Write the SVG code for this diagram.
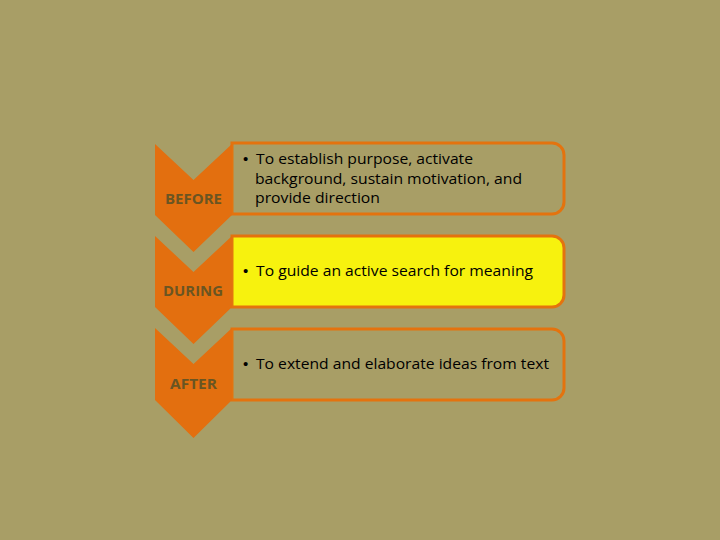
<svg xmlns="http://www.w3.org/2000/svg" width="720" height="540" viewBox="0 0 720 540">
<style>
.chev{fill:#E36F0F}
.box{fill:#A89E66;stroke:#E4730E;stroke-width:3}
.hl{fill:#F7F20E}
.lbl{font-family:"Open Sans","Liberation Sans",sans-serif;font-weight:bold;font-size:14px;fill:#6A5522}
.txt{font-family:"Open Sans","Liberation Sans",sans-serif;font-size:14px;fill:#000}
.bul{font-family:"Liberation Sans",sans-serif;font-size:15px;fill:#000}
</style>
<rect width="720" height="540" fill="#A89E66"/>
<g id="step-before">
<path class="box" d="M232 143 H552 A12 12 0 0 1 564 155 V202 A12 12 0 0 1 552 214 H232 Z"/>
<polygon class="chev" points="155,144 193.5,180 232,144 232,215 193.5,252 155,215"/>
<text class="lbl" x="165" y="204" textLength="57" lengthAdjust="spacingAndGlyphs">BEFORE</text>
<text class="bul" x="243" y="164">•</text>
<text class="txt" x="256" y="164" textLength="217" lengthAdjust="spacingAndGlyphs">To establish purpose, activate</text>
<text class="txt" x="255" y="183.5" textLength="267" lengthAdjust="spacingAndGlyphs">background, sustain motivation, and</text>
<text class="txt" x="255" y="203" textLength="125" lengthAdjust="spacingAndGlyphs">provide direction</text>
</g>
<g id="step-during">
<path class="box hl" d="M232 236 H552 A12 12 0 0 1 564 248 V295 A12 12 0 0 1 552 307 H232 Z"/>
<polygon class="chev" points="155,236 193.5,272 232,236 232,307 193.5,344 155,307"/>
<text class="lbl" x="163" y="296" textLength="60" lengthAdjust="spacingAndGlyphs">DURING</text>
<text class="bul" x="243" y="276">•</text>
<text class="txt" x="256" y="276" textLength="277" lengthAdjust="spacingAndGlyphs">To guide an active search for meaning</text>
</g>
<g id="step-after">
<path class="box" d="M232 329 H552 A12 12 0 0 1 564 341 V388 A12 12 0 0 1 552 400 H232 Z"/>
<polygon class="chev" points="155,328 193.5,364 232,328 232,400 193.5,438 155,400"/>
<text class="lbl" x="170" y="389" textLength="47" lengthAdjust="spacingAndGlyphs">AFTER</text>
<text class="bul" x="243" y="369">•</text>
<text class="txt" x="256" y="369" textLength="293" lengthAdjust="spacingAndGlyphs">To extend and elaborate ideas from text</text>
</g>
<g id="connectors"/>
</svg>
